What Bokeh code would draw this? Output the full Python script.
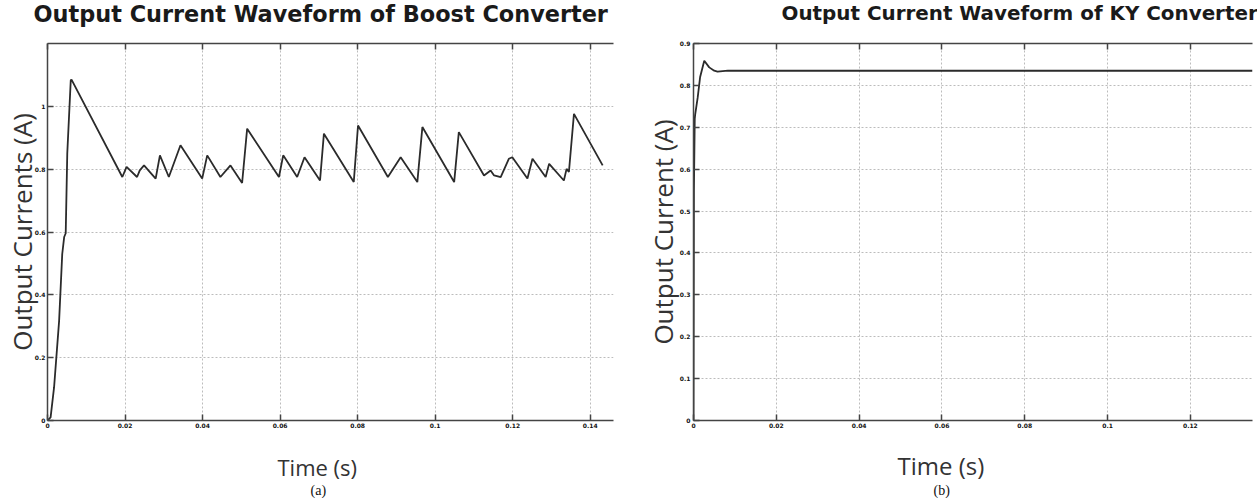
from bokeh.plotting import figure
from bokeh.models import FixedTicker, LinearAxis, Range1d, Title
from bokeh.layouts import row
from bokeh.embed import file_html
from bokeh.resources import INLINE

# ---------------- data ----------------
boost_t = [0.0, 0.0008, 0.0017, 0.0030, 0.0038, 0.0043, 0.0047, 0.0051, 0.0060, 0.0062,
           0.0193, 0.0204, 0.0231, 0.0238, 0.0249, 0.0279, 0.0290, 0.0313, 0.0343, 0.0399,
           0.0412, 0.0446, 0.0472, 0.0502, 0.0515, 0.0597, 0.0608, 0.0644, 0.0663, 0.0703,
           0.0713, 0.0790, 0.0801, 0.0878, 0.0911, 0.0954, 0.0967, 0.1049, 0.1061, 0.1126,
           0.1143, 0.1152, 0.1169, 0.1190, 0.1199, 0.1238, 0.1251, 0.1285, 0.1294, 0.1332,
           0.1339, 0.1345, 0.1358, 0.1432]
boost_i = [0.0, 0.01, 0.106, 0.318, 0.53, 0.584, 0.596, 0.85, 1.083, 1.085,
           0.775, 0.807, 0.775, 0.796, 0.812, 0.770, 0.844, 0.775, 0.876, 0.770,
           0.844, 0.775, 0.812, 0.756, 0.929, 0.775, 0.844, 0.775, 0.838, 0.764,
           0.913, 0.759, 0.939, 0.775, 0.838, 0.759, 0.934, 0.759, 0.918, 0.780,
           0.796, 0.780, 0.775, 0.833, 0.838, 0.770, 0.833, 0.775, 0.817, 0.764,
           0.801, 0.791, 0.976, 0.812]

ky_t = [0.0, 0.0001, 0.0003, 0.0004, 0.0010, 0.0016, 0.0026, 0.0038, 0.0050, 0.0058,
        0.0083, 0.135]
ky_i = [0.0, 0.55, 0.72, 0.73, 0.77, 0.82, 0.859, 0.843, 0.835, 0.833,
        0.835, 0.835]

boost_xticks = [0, 0.02, 0.04, 0.06, 0.08, 0.1, 0.12, 0.14]
boost_xlabels = ["0", "0.02", "0.04", "0.06", "0.08", "0.1", "0.12", "0.14"]
boost_yticks = [0, 0.2, 0.4, 0.6, 0.8, 1.0]
boost_ylabels = ["0", "0.2", "0.4", "0.6", "0.8", "1"]

ky_xticks = [0, 0.02, 0.04, 0.06, 0.08, 0.1, 0.12]
ky_xlabels = ["0", "0.02", "0.04", "0.06", "0.08", "0.1", "0.12"]
ky_yticks = [0, 0.1, 0.2, 0.3, 0.4, 0.5, 0.6, 0.7, 0.8, 0.9]
ky_ylabels = ["0", "0.1", "0.2", "0.3", "0.4", "0.5", "0.6", "0.7", "0.8", "0.9"]

AX_COLOR = "#444444"
LINE_COLOR = "#2b2b2b"
GRID_COLOR = "#bcbcbc"
LABEL_COLOR = "#333333"
H = 498


def style_axis(ax, ticks, labels, standoff=2):
    ax.ticker = FixedTicker(ticks=ticks)
    ax.major_label_overrides = dict(zip(ticks, labels))
    ax.axis_line_color = AX_COLOR
    ax.axis_line_width = 1.5
    ax.major_tick_line_color = AX_COLOR
    ax.major_tick_line_width = 1.5
    ax.major_tick_in = 6
    ax.major_tick_out = 0
    ax.minor_tick_line_color = None
    ax.major_label_standoff = standoff
    ax.major_label_text_font = "DejaVu Sans"
    ax.major_label_text_font_style = "bold"
    ax.major_label_text_color = "#111111"
    ax.major_label_text_font_size = "6px"


def make_panel(width, left, right, t, i, xmax, ymax, xticks, xlabels, yticks, ylabels,
               title, title_offset, title_size, title_standoff,
               ylabel, ylabel_standoff, ytick_standoff,
               xlabel_offset, xlabel_size, caption, caption_offset):
    p = figure(width=width, height=H, x_range=Range1d(0, xmax), y_range=Range1d(0, ymax),
               output_backend="svg", toolbar_location=None,
               min_border_left=left, min_border_right=right,
               min_border_top=43, min_border_bottom=H - 420,
               outline_line_color=None, background_fill_color="white",
               border_fill_color="white")
    p.title = Title(text=title, align="left", offset=title_offset,
                    vertical_align="top", standoff=title_standoff,
                    text_font="DejaVu Sans", text_font_style="bold",
                    text_font_size=title_size, text_color="#1a1a1a")

    style_axis(p.xaxis[0], xticks, xlabels)

    ya = p.yaxis[0]
    style_axis(ya, yticks, ylabels, standoff=ytick_standoff)
    ya.axis_label = ylabel
    ya.axis_label_text_font = "Open Sans"
    ya.axis_label_text_font_style = "normal"
    ya.axis_label_text_font_size = "26px"
    ya.axis_label_text_color = LABEL_COLOR
    ya.axis_label_standoff = ylabel_standoff

    top = LinearAxis()
    style_axis(top, xticks, [""] * len(xticks), standoff=0)
    p.add_layout(top, "above")

    p.xgrid.ticker = FixedTicker(ticks=xticks)
    p.ygrid.ticker = FixedTicker(ticks=yticks)
    for g in (p.xgrid, p.ygrid):
        g.grid_line_color = GRID_COLOR
        g.grid_line_dash = "2 2"
        g.grid_line_width = 1

    p.line(t, i, line_color=LINE_COLOR, line_width=1.8)

    p.add_layout(Title(text="Time (s)", align="left", offset=xlabel_offset,
                       vertical_align="bottom", standoff=-102,
                       text_font="Open Sans", text_font_style="normal",
                       text_font_size=xlabel_size, text_color=LABEL_COLOR), "below")
    p.add_layout(Title(text=caption, align="left", offset=caption_offset,
                       vertical_align="bottom", standoff=-134,
                       text_font="Liberation Serif", text_font_style="normal",
                       text_font_size="14px", text_color="#111111"), "below")
    return p


p1 = make_panel(641, 47, 28, boost_t, boost_i, 0.146, 1.2,
                boost_xticks, boost_xlabels, boost_yticks, boost_ylabels,
                "Output Current Waveform of Boost Converter", -14, "22.4px", -86,
                "Output Currents (A)", -8, 2, 230, "22px", "(a)", 263)
p2 = make_panel(616, 52, 5, ky_t, ky_i, 0.135, 0.9,
                ky_xticks, ky_xlabels, ky_yticks, ky_ylabels,
                "Output Current Waveform of KY Converter", 88, "19.9px", -84,
                "Output Current (A)", -4, 3, 204, "24px", "(b)", 240)

layout = row(p1, p2)
open("out.html", "w").write(file_html(layout, INLINE))
